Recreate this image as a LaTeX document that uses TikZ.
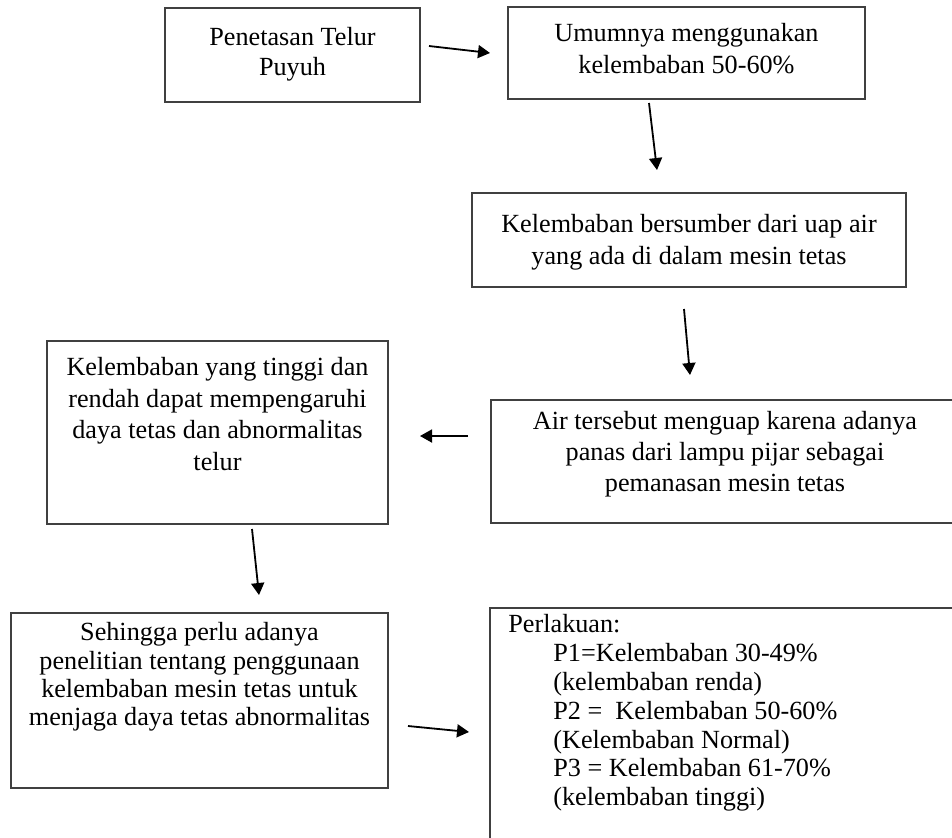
\documentclass[tikz,border=0pt]{standalone}
\usepackage{fontspec}
\setmainfont{Liberation Serif}
\usetikzlibrary{arrows.meta}

\tikzset{
  box/.style={draw=black!75, line width=1pt, rectangle, inner sep=0pt},
  txt/.style={font=\fontsize{13.1}{#1}\selectfont, align=center, inner sep=0pt},
  txt/.default=15.5,
  arr/.style={-{Triangle[length=6pt,width=6.5pt]}, line width=0.9pt}
}

\begin{document}
\begin{tikzpicture}[x=0.5pt,y=-0.5pt]
\clip (0,0) rectangle (952,837);
% Penetasan
\node[box, minimum width=127.5pt, minimum height=47pt] (penetasan) at (292.5,55) {};
\node[txt=15] (penetasan-t) at (292.5,54) {Penetasan Telur\\Puyuh};
% Umumnya
\node[box, minimum width=178.5pt, minimum height=46pt] (umum) at (686.5,53) {};
\node[txt=16] (umum-t) at (686.5,49) {Umumnya menggunakan\\kelembaban 50-60\%};
% Sumber
\node[box, minimum width=217pt, minimum height=47pt] (sumber) at (689,240) {};
\node[txt=16] (sumber-t) at (689,242) {Kelembaban bersumber dari uap air\\yang ada di dalam mesin tetas};
% Menguap
\node[box, minimum width=234pt, minimum height=61.5pt] (uap) at (725,461.5) {};
\node[txt] (uap-t) at (725,454) {Air tersebut menguap karena adanya\\panas dari lampu pijar sebagai\\pemanasan mesin tetas};
% Pengaruh
\node[box, minimum width=170.5pt, minimum height=91.5pt] (pengaruh) at (217.5,432.5) {};
\node[txt=15.8] (pengaruh-t) at (217.5,414) {Kelembaban yang tinggi dan\\rendah dapat mempengaruhi\\daya tetas dan abnormalitas\\telur};
% Penelitian
\node[box, minimum width=188.5pt, minimum height=87.5pt] (teliti) at (199.5,700.5) {};
\node[txt=14.2] (teliti-t) at (199.5,677) {Sehingga perlu adanya\\penelitian tentang penggunaan\\kelembaban mesin tetas untuk\\menjaga daya tetas abnormalitas};
% Perlakuan
\node[box, minimum width=240pt, minimum height=121pt] (perlakuan) at (730,729) {};
\node[txt=14.4, align=left, anchor=west] (perlakuan-t) at (508,713) {Perlakuan:\\
\hspace*{22.5pt}P1=Kelembaban 30-49\%\\
\hspace*{22.5pt}(kelembaban renda)\\
\hspace*{22.5pt}P2 = \ Kelembaban 50-60\%\\
\hspace*{22.5pt}(Kelembaban Normal)\\
\hspace*{22.5pt}P3 = Kelembaban 61-70\%\\
\hspace*{22.5pt}(kelembaban tinggi)};
% Arrows
\coordinate (a1) at (429,46);   \coordinate (b1) at (490,53);
\coordinate (a2) at (649,103);  \coordinate (b2) at (657,170);
\coordinate (a3) at (684,309);  \coordinate (b3) at (690,375);
\coordinate (a4) at (468,436);  \coordinate (b4) at (420,436);
\coordinate (a5) at (252,529);  \coordinate (b5) at (259,595);
\coordinate (a6) at (408,726);  \coordinate (b6) at (469,732);
\foreach \i in {1,...,6}{
\draw[arr] (a\i) -- (b\i);
}
\end{tikzpicture}
\end{document}
